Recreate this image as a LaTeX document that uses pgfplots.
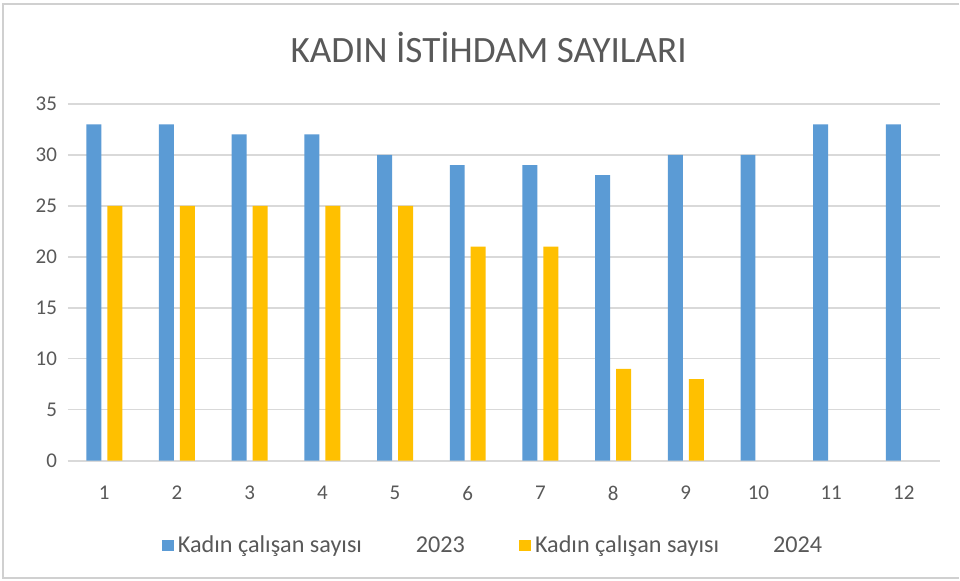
\documentclass[border=0pt]{standalone}
\usepackage{fontspec}
\setmainfont{Carlito}
\usepackage{pgfplots}
\pgfplotsset{compat=1.18}
\definecolor{cblue}{HTML}{5B9BD5}
\definecolor{corange}{HTML}{FFC000}
\definecolor{cgrid}{HTML}{D9D9D9}
\definecolor{ctext}{HTML}{595959}
\definecolor{cborder}{HTML}{D0D0D0}
\begin{document}
\begin{tikzpicture}
\fill[white] (0,0) rectangle (480pt,290.5pt);
\draw[cborder,line width=1pt] (479.9pt,288.5pt) -- (1.5pt,288.5pt) -- (1.5pt,1.5pt) -- (479.9pt,1.5pt);
\node[text=ctext,font=\fontsize{18.6}{20}\selectfont] at (244.5pt,266.5pt) {KADIN İSTİHDAM SAYILARI};
\begin{axis}[
  at={(34pt,60pt)}, anchor=origin,
  scale only axis,
  width=436.5pt, height=178.5pt,
  xmin=0.5, xmax=12.5, ymin=0, ymax=35,
  ybar=3pt, bar width=7.5pt,
  xtick={1,...,12}, ytick={0,5,...,35},
  axis line style={draw=none},
  axis x line*=bottom,
  tick style={draw=none},
  ymajorgrids, grid style={cgrid,line width=0.8pt},
  extra y ticks={0}, extra y tick style={grid style={cgrid,line width=1pt}},
  extra y tick labels={},
  /pgf/number format/assume math mode=true,
  ticklabel style={text=ctext,font=\fontsize{10.5}{12}\selectfont},
  yticklabel style={xshift=-2pt},
  xticklabel style={yshift=-5pt},
  legend style={at={(0.4885,-0.238)}, anchor=center, draw=none, fill=none,
    legend columns=2, font=\fontsize{12.1}{14}\selectfont, text=ctext,
    /tikz/every even column/.append style={column sep=25pt},
    legend cell align=left},
  legend image code/.code={\fill[#1,draw=none] (0pt,-3pt) rectangle (6pt,3pt);},
]
\addplot[fill=cblue,draw=none] coordinates {(1,33) (2,33) (3,32) (4,32) (5,30) (6,29) (7,29) (8,28) (9,30) (10,30) (11,33) (12,33)};
\addlegendentry{Kadın çalışan sayısı\hspace{27pt}2023}
\addplot[fill=corange,draw=none] coordinates {(1,25) (2,25) (3,25) (4,25) (5,25) (6,21) (7,21) (8,9) (9,8)};
\addlegendentry{Kadın çalışan sayısı\hspace{27pt}2024}
\end{axis}
\end{tikzpicture}
\end{document}
